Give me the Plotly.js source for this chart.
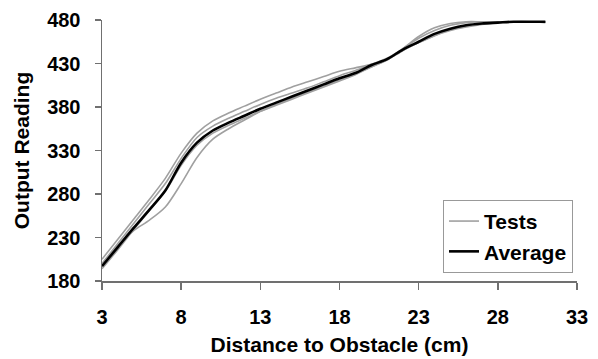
<!DOCTYPE html>
<html>
<head>
<meta charset="utf-8">
<script src="https://cdn.plot.ly/plotly-3.0.1.min.js"></script>
<style>html,body{margin:0;padding:0;background:#fff}#chart{width:598px;height:359px}</style>
</head>
<body>
<div id="chart"></div>
<script>
const distance = [3,4,5,6,7,8,9,10,11,12,13,14,15,16,17,18,19,20,21,22,23,24,25,26,27,28,29,30,31];
const test1 = [205,228,251,274,298,327,350,364,373,381,389,396,403,409,415,421,425,429,435,447,461,471,476,478,478,478,478,478,478];
const test2 = [200,223,246,269,292,321,345,358,367,375,383,390,396,402,409,416,422,429,436,447,459,468,474,477,478,478,478,478,478];
const test3 = [199,221,238,250,265,292,322,343,355,365,375,383,390,397,404,411,418,426,434,445,454,462,468,472,475,477,478,478,477];
const test4 = [194,216,239,261,283,313,336,350,359,367,375,382,389,396,403,410,417,426,434,445,454,462,469,473,476,477,478,478,478];
const average = [197,219,241,262,284,316,339,353,362,370,378,385,392,399,406,413,419,428,435,446,455,464,470,474,476,477,478,478,478];
const tests = [test1, test2, test3, test4];
const xTicks = [3,8,13,18,23,28,33];
const yTicks = [180,230,280,330,380,430,480];

const FONT = 'Liberation Sans, Arial, sans-serif';
const traces = tests.map((t, i) => ({
  x: distance, y: t, type: 'scatter', mode: 'lines',
  name: 'Tests', legendgroup: 'tests', showlegend: i === 0,
  line: {color: '#a0a0a0', width: 1.6, shape: 'spline', smoothing: 0.8}
}));
traces.push({
  x: distance, y: average, type: 'scatter', mode: 'lines', name: 'Average',
  line: {color: '#000000', width: 2.6, shape: 'spline', smoothing: 0.8}
});

const layout = {
  width: 598, height: 359,
  margin: {l: 102, r: 21, t: 20, b: 78},
  paper_bgcolor: '#fff', plot_bgcolor: '#fff',
  font: {family: FONT, color: '#000', size: 20, weight: 'bold'},
  showlegend: true,
  xaxis: {
    range: [3, 33], tickvals: xTicks, ticktext: xTicks.map(String),
    showgrid: false, zeroline: false, showline: true, linecolor: '#707070', linewidth: 1.5,
    ticks: 'outside', ticklen: 7, tickcolor: '#707070', tickwidth: 1.5,
    tickfont: {family: FONT, size: 20, weight: 'bold', color: '#000'},
    ticklabelstandoff: 10,
    title: {text: 'Distance to Obstacle (cm)', font: {family: FONT, size: 21, weight: 'bold', color: '#000'}, standoff: 11}
  },
  yaxis: {
    range: [180, 480], tickvals: yTicks, ticktext: yTicks.map(String),
    showgrid: false, zeroline: false, showline: true, linecolor: '#707070', linewidth: 1.5,
    ticks: 'outside', ticklen: 6, tickcolor: '#707070', tickwidth: 1.5,
    tickfont: {family: FONT, size: 20, weight: 'bold', color: '#000'},
    ticklabelstandoff: 10,
    title: {text: 'Output Reading', font: {family: FONT, size: 21, weight: 'bold', color: '#000'}, standoff: 12}
  },
  legend: {
    x: 0.9916, xanchor: 'right', y: 0.031, yanchor: 'bottom',
    bgcolor: '#fff', bordercolor: '#999', borderwidth: 1,
    font: {family: FONT, size: 21, weight: 'bold', color: '#000'},
    traceorder: 'normal', tracegroupgap: 0
  }
};

Plotly.newPlot('chart', traces, layout, {displayModeBar: false, staticPlot: true});
</script>
</body>
</html>
